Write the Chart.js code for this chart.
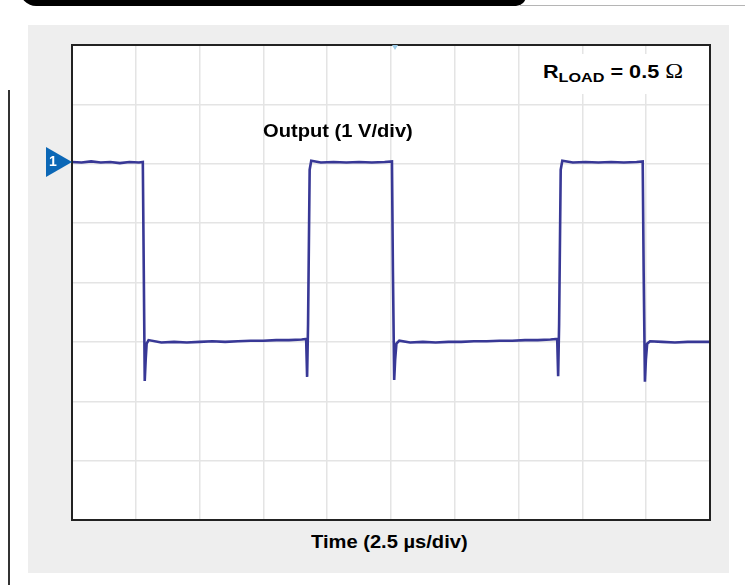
<!DOCTYPE html>
<html>
<head>
<meta charset="utf-8">
<script src="https://cdn.jsdelivr.net/npm/chart.js@4.4.1/dist/chart.umd.min.js"></script>
<style>
    body { margin: 0; width: 745px; height: 585px; background: #ffffff; position: relative; overflow: hidden; font-family: "Liberation Sans", Arial, sans-serif; }
    .top-bar { position: absolute; left: 20px; top: -12px; width: 506px; height: 18px; background: #000; border-radius: 0 0 10px 16px; }
    .top-line { position: absolute; left: 520px; top: 5px; width: 225px; height: 1px; background: #b5b5b5; }
    .side-line { position: absolute; left: 8px; top: 90px; width: 2px; height: 495px; background: #333; }
    .panel { position: absolute; left: 28px; top: 25px; width: 701px; height: 548px; background: #eeeeee; }
    .plot { position: absolute; left: 72px; top: 45px; width: 638px; height: 475px; background: #fff; }
    .frame { position: absolute; left: 71px; top: 44px; width: 640px; height: 477px; border: 2px solid #222; box-sizing: border-box; pointer-events: none; }
    .label { position: absolute; font-weight: bold; color: #000; white-space: nowrap; font-size: 17.5px; line-height: 17.5px; transform: scaleX(1.15); transform-origin: 0 0; }
    .load-box { position: absolute; left: 533px; top: 54px; width: 174px; height: 40px; background: #fff; }
    .marker { position: absolute; left: 46px; top: 147px; width: 0; height: 0; border-top: 15.5px solid transparent; border-bottom: 15.5px solid transparent; border-left: 26px solid #0b67b6; }
    .marker-num { position: absolute; left: 49px; top: 153px; color: #fff; font-weight: bold; font-size: 14px; }
    .trig { position: absolute; left: 392px; top: 45px; width: 0; height: 0; border-left: 3px solid transparent; border-right: 3px solid transparent; border-top: 5px solid #9ccbe8; }
</style>
</head>
<body>
<div class="top-bar"></div>
<div class="top-line"></div>
<div class="side-line"></div>
<div class="panel"></div>
<div class="plot"><canvas id="scopeChart"></canvas></div>
<div class="frame"></div>
<div class="trig"></div>
<div class="load-box"></div>
<div class="label" style="left:543px; top:63px; font-size:18px; transform:scaleX(1.2);">R<sub style="font-size:13.5px; line-height:0; vertical-align:-4px;">LOAD</sub> = 0.5 <span style="font-family:'Liberation Serif', serif; font-weight:normal; font-size:20px;">Ω</span></div>
<div class="label" style="left:263px; top:123px;">Output (1 V/div)</div>
<div class="label" style="left:311px; top:534px;">Time (2.5 µs/div)</div>
<div class="marker"></div>
<div class="marker-num">1</div>

<script>
// time in divisions (2.5 µs/div), 10 divisions across
const timeDiv = [
    0.00, 0.15, 0.30, 0.45, 0.60, 0.75, 0.90, 1.05, 1.11,
    1.125, 1.14, 1.155, 1.17, 1.20, 1.40, 1.60, 1.80, 2.00, 2.20, 2.40, 2.60, 2.80, 3.00, 3.20, 3.40, 3.60, 3.67,
    3.685, 3.70, 3.725, 3.75, 3.90, 4.10, 4.30, 4.50, 4.70, 4.90, 5.015,
    5.03, 5.05, 5.065, 5.085, 5.13, 5.30, 5.50, 5.70, 5.90, 6.10, 6.30, 6.50, 6.70, 6.90, 7.10, 7.30, 7.50, 7.605,
    7.62, 7.635, 7.66, 7.685, 7.85, 8.05, 8.25, 8.45, 8.65, 8.85, 8.945,
    8.96, 8.98, 8.995, 9.015, 9.06, 9.25, 9.45, 9.65, 9.85, 10.00
];
// output in divisions (1 V/div), 8 divisions tall
const outputDiv = [
    6.03, 6.02, 6.04, 6.02, 6.03, 6.01, 6.03, 6.02, 6.03,
    4.20, 2.34, 2.70, 2.97, 3.03, 2.99, 3.00, 2.99, 3.00, 3.01, 3.00, 3.01, 3.02, 3.02, 3.03, 3.03, 3.04, 3.05,
    2.41, 3.30, 5.90, 6.05, 6.02, 6.03, 6.02, 6.03, 6.02, 6.03, 6.04,
    4.20, 2.36, 2.70, 2.97, 3.02, 2.99, 3.00, 2.99, 3.00, 3.00, 3.01, 3.01, 3.02, 3.02, 3.03, 3.03, 3.04, 3.05,
    2.42, 3.30, 5.90, 6.05, 6.02, 6.03, 6.02, 6.03, 6.02, 6.03, 6.04,
    4.20, 2.33, 2.70, 2.97, 3.01, 3.00, 2.99, 3.00, 3.00, 3.00
];
const xDivisions = 10;
const yDivisions = 8;

const points = timeDiv.map((t, i) => ({ x: t, y: outputDiv[i] }));

const ctx = document.getElementById('scopeChart').getContext('2d');
new Chart(ctx, {
    type: 'scatter',
    data: {
        datasets: [{
            data: points,
            showLine: true,
            borderColor: '#383896',
            borderWidth: 2.6,
            pointRadius: 0,
            tension: 0
        }]
    },
    options: {
        responsive: true,
        maintainAspectRatio: false,
        animation: false,
        layout: { padding: 0 },
        plugins: {
            legend: { display: false },
            tooltip: { enabled: false }
        },
        scales: {
            x: {
                type: 'linear',
                min: 0,
                max: xDivisions,
                grid: { color: '#e4e4e4', lineWidth: 1.5, drawTicks: false },
                border: { display: false },
                ticks: { display: false, stepSize: 1 }
            },
            y: {
                min: 0,
                max: yDivisions,
                grid: { color: '#e4e4e4', lineWidth: 1.5, drawTicks: false },
                border: { display: false },
                ticks: { display: false, stepSize: 1 }
            }
        }
    }
});
</script>
</body>
</html>
